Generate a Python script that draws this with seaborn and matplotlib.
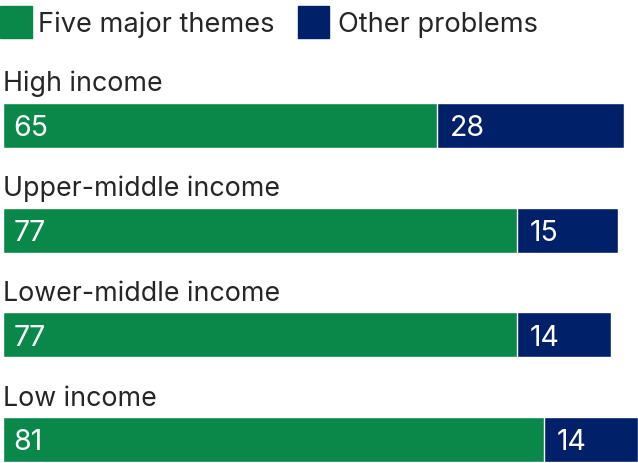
import matplotlib
matplotlib.use("Agg")
import matplotlib.pyplot as plt
from matplotlib.patches import Rectangle
import seaborn as sns
import pandas as pd

# data
groups = ["High income", "Upper-middle income", "Lower-middle income", "Low income"]
five_major = [65, 77, 77, 81]
other = [28, 15, 14, 14]
series_names = ["Five major themes", "Other problems"]

GREEN = "#0A884A"
NAVY = "#00216A"
TEXT = "#262626"
FONT = "Inter"

df = pd.DataFrame({"group": groups, "five": five_major, "other": other})
df["total"] = df["five"] + df["other"]

sns.set_theme(style="white")
plt.rcParams["font.family"] = [FONT, "DejaVu Sans"]

W, H = 638, 463
fig = plt.figure(figsize=(W / 100, H / 100), dpi=100)

# axes placement in pixels
px_left, px_right = 3, 638
px_top, px_bottom = 62.7, 463
ax = fig.add_axes([px_left / W, 0, (px_right - px_left) / W, (px_bottom - px_top) / H])

bar_w = 0.43
sns.barplot(data=df, x="total", y="group", orient="h", color=NAVY,
            width=bar_w, saturation=1, ax=ax)
sns.barplot(data=df, x="five", y="group", orient="h", color=GREEN,
            width=bar_w, saturation=1, edgecolor="white", linewidth=1.0, ax=ax)

ax.set_xlim(0, (px_right - px_left) / 6.68)
ax.set_ylim(3.224, -0.6)
ax.axis("off")

fs = 19.3
vfs = 20.5
for i, row in df.iterrows():
    ax.text(0, i - bar_w / 2 - 0.11, row["group"], ha="left", va="baseline",
            fontsize=fs, color=TEXT)
    ax.text(1.6, i + 0.03, str(row["five"]), ha="left", va="center",
            fontsize=vfs, color="white")
    ax.text(row["five"] + 1.9, i + 0.03, str(row["other"]), ha="left", va="center",
            fontsize=vfs, color="white")

# legend, drawn by hand at the top
def fx(p):
    return p / W

def fy(p):
    return 1 - p / H

fig.patches.append(Rectangle((fx(0), fy(38)), fx(32), 32 / H, color=GREEN,
                             transform=fig.transFigure, figure=fig))
fig.text(fx(38), fy(24.5), series_names[0], ha="left", va="center",
         fontsize=fs + 0.3, color=TEXT)
fig.patches.append(Rectangle((fx(298), fy(38)), fx(31), 32 / H, color=NAVY,
                             transform=fig.transFigure, figure=fig))
fig.text(fx(338), fy(24.5), series_names[1], ha="left", va="center",
         fontsize=fs + 0.3, color=TEXT)

fig.savefig("out.png", dpi=100)
